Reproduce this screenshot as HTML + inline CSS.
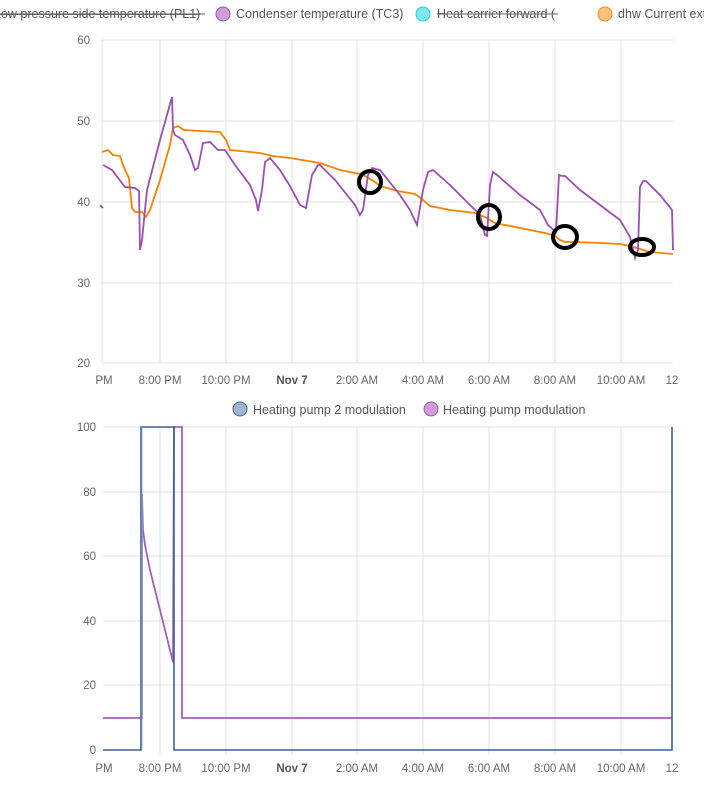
<!DOCTYPE html>
<html><head><meta charset="utf-8"><style>
body{margin:0;background:#fff;width:704px;height:788px;overflow:hidden}
svg{display:block;font-family:"Liberation Sans",sans-serif}
</style></head><body>
<svg width="704" height="788" viewBox="0 0 704 788">
<g font-size="12.5" fill="#555">
<text x="-6" y="18" text-decoration="line-through">Low pressure side temperature (PL1)</text>
<line x1="-6" y1="14" x2="205" y2="14" stroke="#666" stroke-width="1"/>
<circle cx="223" cy="14" r="7" fill="#ce9fd6" stroke="#9b59b6"/>
<text x="236" y="18">Condenser temperature (TC3)</text>
<circle cx="423" cy="14" r="7" fill="#80e8ec" stroke="#22cfd6"/>
<text x="437" y="18">Heat carrier forward (</text>
<line x1="437" y1="14" x2="558" y2="14" stroke="#666" stroke-width="1"/>
<path d="M605 7 A7 7 0 0 1 605 21 A7 7 0 0 1 605 7Z" fill="#ffc080" stroke="#ff8c00"/>
<text x="618" y="18">dhw Current ext</text>
</g>
<g stroke="#e0e0e0" stroke-width="1">
<line x1="102" y1="40" x2="673" y2="40"/><line x1="102" y1="121" x2="673" y2="121"/>
<line x1="102" y1="202" x2="673" y2="202"/><line x1="102" y1="283" x2="673" y2="283"/>
<line x1="102" y1="363" x2="673" y2="363"/>
<line x1="102" y1="40" x2="102" y2="363"/>
<line x1="160" y1="40" x2="160" y2="363"/><line x1="226" y1="40" x2="226" y2="363"/>
<line x1="292" y1="40" x2="292" y2="363"/><line x1="357" y1="40" x2="357" y2="363"/>
<line x1="423" y1="40" x2="423" y2="363"/><line x1="489" y1="40" x2="489" y2="363"/>
<line x1="555" y1="40" x2="555" y2="363"/><line x1="621" y1="40" x2="621" y2="363"/>
<line x1="103" y1="427" x2="672" y2="427"/><line x1="103" y1="492" x2="672" y2="492"/>
<line x1="103" y1="556" x2="672" y2="556"/><line x1="103" y1="621" x2="672" y2="621"/>
<line x1="103" y1="685" x2="672" y2="685"/>
<line x1="160" y1="427" x2="160" y2="755"/><line x1="226" y1="427" x2="226" y2="755"/>
<line x1="292" y1="427" x2="292" y2="755"/><line x1="357" y1="427" x2="357" y2="755"/>
<line x1="423" y1="427" x2="423" y2="755"/><line x1="489" y1="427" x2="489" y2="755"/>
<line x1="555" y1="427" x2="555" y2="755"/><line x1="621" y1="427" x2="621" y2="755"/>
</g>
<g font-size="11.5" fill="#666" text-anchor="end">
<text x="90" y="44">60</text><text x="90" y="125">50</text><text x="90" y="206">40</text>
<text x="90" y="287">30</text><text x="90" y="367">20</text>
<text x="96" y="431">100</text><text x="96" y="496">80</text><text x="96" y="560">60</text>
<text x="96" y="625">40</text><text x="96" y="689">20</text><text x="96" y="754">0</text>
</g>
<g font-size="11.5" fill="#666" text-anchor="middle">
<text x="104" y="384">PM</text><text x="160" y="384">8:00 PM</text><text x="226" y="384">10:00 PM</text>
<text x="292" y="384" font-weight="bold" fill="#555">Nov 7</text><text x="357" y="384">2:00 AM</text>
<text x="423" y="384">4:00 AM</text><text x="489" y="384">6:00 AM</text><text x="555" y="384">8:00 AM</text>
<text x="621" y="384">10:00 AM</text><text x="672" y="384">12</text>
<text x="104" y="772">PM</text><text x="160" y="772">8:00 PM</text><text x="226" y="772">10:00 PM</text>
<text x="292" y="772" font-weight="bold" fill="#555">Nov 7</text><text x="357" y="772">2:00 AM</text>
<text x="423" y="772">4:00 AM</text><text x="489" y="772">6:00 AM</text><text x="555" y="772">8:00 AM</text>
<text x="621" y="772">10:00 AM</text><text x="672" y="772">12</text>
</g>
<polyline fill="none" stroke="#ff8000" stroke-width="1.8" points="102,152 108,150 113,155 120,156 123,165 126,172 129,178 132,208 135,212 142,212 146,217 150,210 160,180 170,145 173,128 178,126 184,130 200,131 220,132 226,140 230,150 240,151 260,153 272,156 290,158 320,163 340,170 360,174 365,176 375,182 380,186 398,191 415,194 423,200 430,206 450,210 475,213 485,217 490,220 495,223 510,226 545,233 555,236 560,240 565,242 575,242 600,243 620,244 630,246 640,249 650,252 673,254"/>
<polyline fill="none" stroke="#9b4fb0" stroke-width="1.8" points="103,165 112,170 125,187 135,188 139,191 140,250 142,240 147,190 160,140 172,97 173,130 175,135 183,140 190,155 195,170 198,168 203,143 210,142 218,150 225,150 235,165 250,185 256,200 258,211 262,190 265,162 270,158 280,170 290,186 300,205 306,208 312,175 318,165 320,165 335,180 355,205 360,215 363,210 368,175 372,168 380,170 400,195 410,210 417,225 423,190 428,172 433,170 450,185 470,205 480,215 485,235 487,236 490,185 493,172 497,175 520,195 540,210 548,225 556,232 559,175 562,176 565,176 580,190 600,205 620,220 630,237 635,258 638,250 640,187 643,181 646,181 660,195 672,210 673,250"/>
<line x1="100" y1="205" x2="103" y2="208" stroke="#9b4fb0" stroke-width="1.8"/>
<g fill="none" stroke="#000" stroke-width="4">
<ellipse cx="370" cy="182" rx="11" ry="11"/><ellipse cx="489" cy="217" rx="11" ry="12"/>
<ellipse cx="565" cy="237" rx="12" ry="11"/><ellipse cx="642" cy="247" rx="12" ry="8"/>
</g>
<g font-size="12.5" fill="#555">
<circle cx="240" cy="409" r="7" fill="#9fb4cf" stroke="#4a6b96"/>
<text x="253" y="414">Heating pump 2 modulation</text>
<circle cx="431" cy="409" r="7" fill="#ce9fd6" stroke="#9b59b6"/>
<text x="443" y="414">Heating pump modulation</text>
</g>
<polyline fill="none" stroke="#a260b8" stroke-width="1.8" points="103,718 142,718 142,494 143,530 145,545 150,570 160,610 173,662 174,427 182,427 182,718 672,718"/>
<polyline fill="none" stroke="#3d6090" stroke-width="1.6" points="103,750 141,750 141,427 174,427 174,750 672,750 672,427"/>
<line x1="142" y1="427" x2="142" y2="750" stroke="#8fb0cf" stroke-width="1"/>
</svg>
</body></html>
